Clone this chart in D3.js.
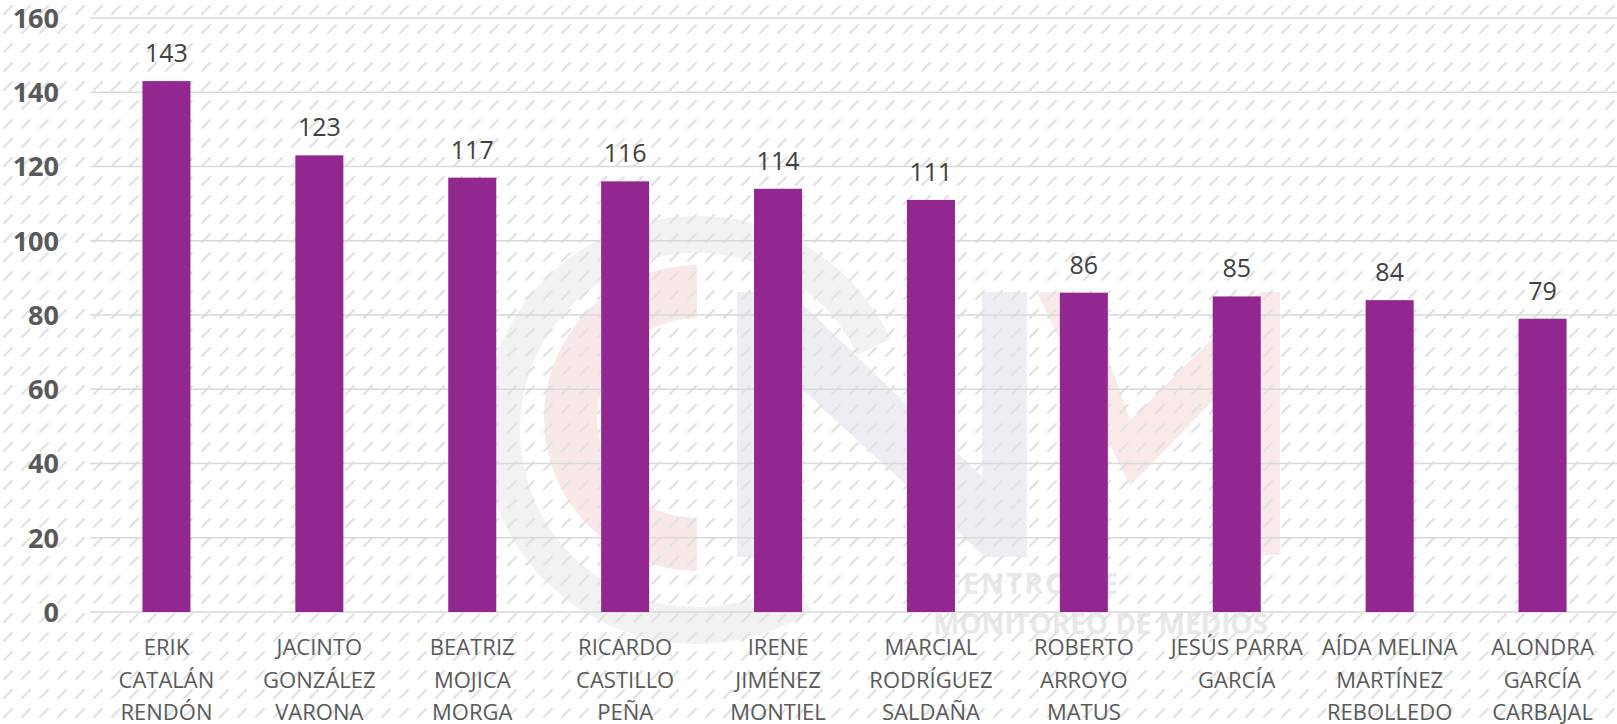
<!DOCTYPE html>
<html>
<head>
<meta charset="utf-8">
<script src="https://cdn.jsdelivr.net/npm/d3@7"></script>
<style>
  body { margin: 0; background: #fff; }
  svg { display: block; }
</style>
</head>
<body>
<div id="chart"></div>
<script>
// size of the drawing
var svgWidth = 1617;
var svgHeight = 724;

// plot area
var margin = { top: 18, right: -2, bottom: 112, left: 90 };
var chartWidth = svgWidth - margin.left - margin.right;
var chartHeight = svgHeight - margin.top - margin.bottom;

// data
var categories = ["ERIK CATALÁN RENDÓN", "JACINTO GONZÁLEZ VARONA", "BEATRIZ MOJICA MORGA",
  "RICARDO CASTILLO PEÑA", "IRENE JIMÉNEZ MONTIEL", "MARCIAL RODRÍGUEZ SALDAÑA",
  "ROBERTO ARROYO MATUS", "JESÚS PARRA GARCÍA", "AÍDA MELINA MARTÍNEZ REBOLLEDO",
  "ALONDRA GARCÍA CARBAJAL"];
var labelLines = [["ERIK", "CATALÁN", "RENDÓN"], ["JACINTO", "GONZÁLEZ", "VARONA"],
  ["BEATRIZ", "MOJICA", "MORGA"], ["RICARDO", "CASTILLO", "PEÑA"],
  ["IRENE", "JIMÉNEZ", "MONTIEL"], ["MARCIAL", "RODRÍGUEZ", "SALDAÑA"],
  ["ROBERTO", "ARROYO", "MATUS"], ["JESÚS PARRA", "GARCÍA"],
  ["AÍDA MELINA", "MARTÍNEZ", "REBOLLEDO"], ["ALONDRA", "GARCÍA", "CARBAJAL"]];
var values = [143, 123, 117, 116, 114, 111, 86, 85, 84, 79];
var yTicks = [0, 20, 40, 60, 80, 100, 120, 140, 160];

var svg = d3.select("#chart").append("svg")
  .attr("width", svgWidth).attr("height", svgHeight)
  .style("font-family", "'Open Sans', sans-serif");

// hatch pattern for the background
var defs = svg.append("defs");
var pat = defs.append("pattern").attr("id", "hatch")
  .attr("patternUnits", "userSpaceOnUse").attr("width", 18).attr("height", 19);
pat.append("line").attr("x1", 4).attr("y1", 14).attr("x2", 12).attr("y2", 6)
  .attr("stroke", "#e2e2e2").attr("stroke-width", 2.4).attr("stroke-linecap", "round");

svg.append("rect").attr("width", svgWidth).attr("height", svgHeight).attr("fill", "#fff");

// faint watermark logo behind the chart
var wm = svg.append("g").attr("class", "watermark");
wm.append("path")
  .attr("transform", "translate(697,430)")
  .attr("d", d3.arc().innerRadius(177).outerRadius(214)
    .startAngle(-Math.PI * 1.18).endAngle(Math.PI * 0.36)())
  .attr("fill", "#f2f2f2");
wm.append("path")
  .attr("transform", "translate(697,418)")
  .attr("d", d3.arc().innerRadius(100).outerRadius(153)
    .startAngle(-Math.PI).endAngle(0)())
  .attr("fill", "#f9e8e8");
var nShape = [
  [[737, 292], [787, 292], [787, 557], [737, 557]],
  [[737, 292], [790, 292], [1027, 520], [1027, 557], [985, 557], [737, 330]],
  [[982, 292], [1027, 292], [1027, 557], [982, 557]]
];
wm.selectAll("polygon.n").data(nShape).enter().append("polygon")
  .attr("class", "n")
  .attr("points", d => d.map(p => p.join(",")).join(" "))
  .attr("fill", "#eceef3");
var vShape = [[1037, 292], [1085, 292], [1130, 420], [1260, 292], [1280, 292],
  [1280, 555], [1260, 555], [1260, 352], [1130, 486]];
wm.append("polygon")
  .attr("points", vShape.map(p => p.join(",")).join(" "))
  .attr("fill", "#f9e9e9");
wm.append("text").attr("x", 943).attr("y", 594)
  .attr("font-size", 28).attr("font-weight", 700).attr("fill", "#e8e8e8")
  .attr("textLength", 175).text("CENTRO DE");
wm.append("text").attr("x", 933).attr("y", 634)
  .attr("font-size", 28).attr("font-weight", 700).attr("fill", "#e8e8e8")
  .attr("textLength", 335).text("MONITOREO DE MEDIOS");

svg.append("rect").attr("width", svgWidth).attr("height", svgHeight).attr("fill", "url(#hatch)");

var chartGroup = svg.append("g").attr("transform", `translate(${margin.left}, ${margin.top})`);

// scales
var xScale = d3.scaleBand().domain(categories).range([0, chartWidth]).padding(0);
var yScale = d3.scaleLinear().domain([0, 160]).range([chartHeight, 0]);
var barWidth = xScale.bandwidth() * 0.314;

// gridlines
chartGroup.append("g").selectAll("line").data(yTicks).enter().append("line")
  .attr("x1", 0).attr("x2", chartWidth + 10)
  .attr("y1", d => yScale(d)).attr("y2", d => yScale(d))
  .attr("stroke", "#d9d9d9").attr("stroke-width", 1.5);

// y axis labels
var leftAxis = d3.axisLeft(yScale).tickValues(yTicks).tickSize(0).tickPadding(31);
var yAxis = chartGroup.append("g").call(leftAxis);
yAxis.select(".domain").remove();
yAxis.selectAll("text")
  .attr("font-family", "'Open Sans', sans-serif")
  .attr("font-size", 27).attr("font-weight", 700).attr("fill", "#595959")
  .attr("dy", "0.35em");

// bars
chartGroup.selectAll("rect.bar").data(values).enter().append("rect")
  .attr("class", "bar")
  .attr("x", (d, i) => xScale(categories[i]) + (xScale.bandwidth() - barWidth) / 2)
  .attr("y", d => yScale(d))
  .attr("width", barWidth)
  .attr("height", d => chartHeight - yScale(d))
  .attr("fill", "#92278f");

// value labels
chartGroup.selectAll("text.value").data(values).enter().append("text")
  .attr("class", "value")
  .attr("x", (d, i) => xScale(categories[i]) + xScale.bandwidth() / 2)
  .attr("y", d => yScale(d) - 19)
  .attr("text-anchor", "middle")
  .attr("font-size", 25).attr("fill", "#404040")
  .text(d => d);

// category labels
var bottomAxis = d3.axisBottom(xScale).tickSize(0).tickFormat("");
var xAxis = chartGroup.append("g").attr("transform", `translate(0, ${chartHeight})`).call(bottomAxis);
xAxis.select(".domain").remove();
xAxis.selectAll(".tick").each(function(d, i) {
  var t = d3.select(this).append("text")
    .attr("text-anchor", "middle")
    .attr("font-family", "'Open Sans', sans-serif")
    .attr("font-size", 22).attr("fill", "#595959");
  labelLines[i].forEach(function(line, j) {
    t.append("tspan").attr("x", 0).attr("y", 43 + j * 32.5).text(line);
  });
});
</script>
</body>
</html>
